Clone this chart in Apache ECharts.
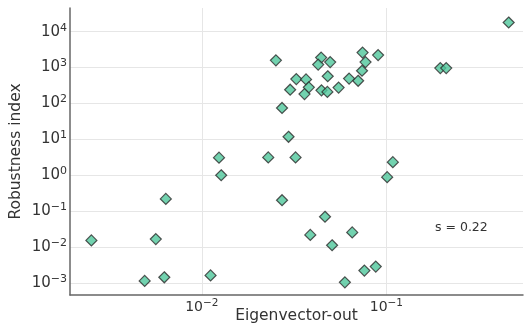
<!DOCTYPE html>
<html>
<head>
<meta charset="utf-8">
<script src="https://cdn.jsdelivr.net/npm/echarts@6/dist/echarts.min.js"></script>
<style>
html,body{margin:0;padding:0;background:#fff;}
#chart{width:524px;height:334px;}
</style>
</head>
<body>
<div id="chart"></div>
<script>
// Eigenvector-out (x) values
const eigenvectorOut = [
  0.46, 0.0252, 0.0443, 0.0427, 0.0496, 0.0743, 0.0902, 0.0771, 0.0738, 0.0703, 0.0628,
  0.196, 0.211, 0.0325, 0.0367, 0.0301, 0.0380, 0.0360, 0.0481, 0.0445, 0.0479, 0.0551,
  0.0272, 0.0295, 0.0229, 0.0322, 0.1084, 0.101, 0.01239, 0.01273, 0.0272, 0.0465,
  0.0387, 0.0653, 0.0508, 0.0760, 0.0876, 0.0596, 0.00638, 0.00252, 0.00563, 0.00490,
  0.00626, 0.01115
];
// Robustness index (y) values
const robustnessIndex = [
  18000, 1590, 1900, 1210, 1425, 2620, 2230, 1425, 815, 429, 494,
  970, 970, 478, 469, 242, 281, 183, 573, 232, 210, 277,
  75, 11.8, 3.14, 3.14, 2.32, 0.885, 3.1, 1.0, 0.202, 0.070,
  0.0218, 0.0256, 0.01124, 0.00221, 0.00286, 0.00104, 0.220, 0.0153, 0.0167, 0.00114,
  0.00144, 0.00162
];
const xRange = [0.00193, 0.55];
const yRange = [4.62e-4, 45700];
const annotation = 's = 0.22';

const points = eigenvectorOut.map((x, i) => [x, robustnessIndex[i]]);

function powLabel(v) {
  const e = Math.log10(v);
  const r = Math.round(e);
  if (Math.abs(e - r) > 1e-6) return '';
  const exp = r < 0 ? '\u2212' + Math.abs(r) : String(r);
  return '10{sup|' + exp + '}';
}
function rich(sz) {
  return { sup: { fontSize: sz, verticalAlign: 'bottom', padding: [0, 0, 8, 0], color: '#333', fontFamily: 'DejaVu Sans' } };
}

const chart = echarts.init(document.getElementById('chart'), null, { renderer: 'canvas' });
chart.setOption({
  animation: false,
  backgroundColor: '#fff',
  grid: { left: 70, right: 1, top: 8, bottom: 39, containLabel: false, outerBoundsMode: 'none' },
  xAxis: {
    type: 'log', logBase: 10, min: xRange[0], max: xRange[1],
    name: 'Eigenvector-out', nameLocation: 'middle', nameGap: 13, nameMoveOverlap: false,
    nameTextStyle: { fontSize: 15.5, color: '#333', fontFamily: 'DejaVu Sans' },
    axisLine: { show: true, lineStyle: { color: '#666', width: 1.5 } },
    axisTick: { show: false },
    axisLabel: { formatter: powLabel, rich: rich(10.5), fontSize: 14, color: '#333', fontFamily: 'DejaVu Sans', margin: 3, showMinLabel: false, showMaxLabel: false },
    splitLine: { show: true, showMinLine: false, showMaxLine: false, lineStyle: { color: '#e6e6e6', width: 1 } }
  },
  yAxis: {
    type: 'log', logBase: 10, min: yRange[0], max: yRange[1],
    name: 'Robustness index', nameLocation: 'middle', nameGap: 46, nameMoveOverlap: false,
    nameTextStyle: { fontSize: 15.5, color: '#333', fontFamily: 'DejaVu Sans' },
    axisLine: { show: true, lineStyle: { color: '#666', width: 1.5 } },
    axisTick: { show: false },
    axisLabel: { formatter: powLabel, rich: rich(11), fontSize: 15, color: '#333', fontFamily: 'DejaVu Sans', margin: 3, showMinLabel: false, showMaxLabel: false },
    splitLine: { show: true, showMinLine: false, showMaxLine: false, lineStyle: { color: '#e6e6e6', width: 1 } }
  },
  series: [{
    type: 'scatter',
    data: points,
    symbol: 'diamond',
    symbolSize: 11,
    itemStyle: { color: '#4fc79b', borderColor: '#2b2b2b', borderWidth: 1.2 }
  }],
  graphic: [{
    type: 'text', left: 435, top: 221,
    style: { text: annotation, fontSize: 12.5, fill: '#333', fontFamily: 'DejaVu Sans' }
  }]
});
</script>
</body>
</html>
